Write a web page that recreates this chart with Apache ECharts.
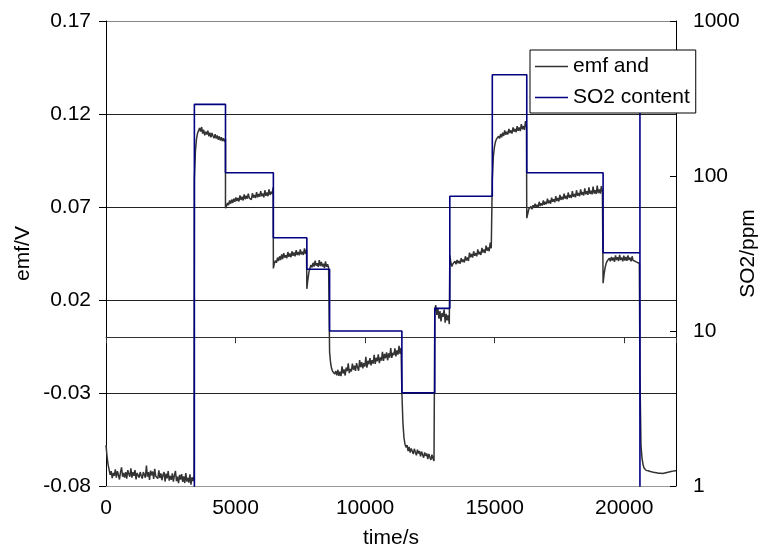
<!DOCTYPE html>
<html>
<head>
<meta charset="utf-8">
<script src="https://cdn.jsdelivr.net/npm/echarts/dist/echarts.min.js"></script>
<style>
html,body{margin:0;padding:0;background:#fff;}
#chart{width:761px;height:551px;}
</style>
</head>
<body>
<div id="chart"></div>
<script>
// ---- tick labels ----
const timeTicks = [0, 5000, 10000, 15000, 20000];
const timeMax = 22000;
const emfTicks = [-0.08, -0.03, 0.02, 0.07, 0.12, 0.17];
const so2Ticks = [1, 10, 100, 1000];

// ---- SO2 content (ppm), step changes; 0.1 = below scale (no SO2) ----
const so2Times  = [0, 3411, 4612, 6460, 7752, 8630, 11420, 12690, 13270, 14910, 16240, 19186, 20608, 20608, 22000];
const so2Values = [0.1, 290, 105, 40, 25, 10, 4, 14, 74, 450, 105, 32, 400, 0.1, 0.1];

// ---- emf (V), one sample every emfStep seconds within each step ----
const emfStep = 40;
const emfSegStart = [0, 3411, 4612, 6460, 7752, 8630, 11420, 12690, 13270, 14910, 16240, 19186, 20608];
const emfSeg0 = [-0.0580,-0.0640,-0.0685,-0.0712,-0.0740,-0.0720,-0.0758,-0.0730,-0.0745,-0.0710,-0.0755,-0.0720,-0.0740,-0.0765,-0.0725,-0.0700,-0.0750,-0.0730,-0.0755,-0.0725,-0.0760,-0.0715,-0.0735,-0.0750,-0.0705,-0.0755,-0.0725,-0.0745,-0.0715,-0.0765,-0.0730,-0.0720,-0.0755,-0.0725,-0.0745,-0.0760,-0.0725,-0.0730,-0.0755,-0.0690,-0.0750,-0.0725,-0.0767,-0.0717,-0.0742,-0.0722,-0.0762,-0.0708,-0.0748,-0.0740,-0.0760,-0.0716,-0.0757,-0.0732,-0.0769,-0.0740,-0.0725,-0.0776,-0.0733,-0.0759,-0.0720,-0.0771,-0.0746,-0.0767,-0.0732,-0.0777,-0.0743,-0.0719,-0.0774,-0.0750,-0.0785,-0.0740,-0.0766,-0.0736,-0.0778,-0.0748,-0.0784,-0.0730,-0.0776,-0.0756,-0.0782,-0.0737,-0.0793,-0.0753,-0.0774,-0.0745];
const emfSeg1 = [0.0850,0.1000,0.1065,0.1095,0.1110,0.1125,0.1105,0.1130,0.1095,0.1115,0.1085,0.1105,0.1090,0.1110,0.1080,0.1100,0.1075,0.1098,0.1082,0.1070,0.1092,0.1068,0.1085,0.1062,0.1080,0.1058,0.1075,0.1055,0.1070,0.1052,0.1065];
const emfSeg2 = [0.0693,0.0705,0.0722,0.0710,0.0735,0.0718,0.0740,0.0722,0.0745,0.0728,0.0752,0.0732,0.0748,0.0730,0.0762,0.0738,0.0755,0.0735,0.0768,0.0742,0.0760,0.0745,0.0772,0.0748,0.0758,0.0740,0.0775,0.0750,0.0765,0.0748,0.0780,0.0752,0.0770,0.0755,0.0785,0.0758,0.0772,0.0752,0.0790,0.0760,0.0778,0.0758,0.0795,0.0765,0.0782,0.0770,0.0805];
const emfSeg3 = [0.0370,0.0398,0.0412,0.0400,0.0428,0.0410,0.0435,0.0415,0.0445,0.0420,0.0452,0.0428,0.0440,0.0425,0.0458,0.0432,0.0450,0.0430,0.0462,0.0438,0.0455,0.0435,0.0468,0.0442,0.0458,0.0440,0.0472,0.0445,0.0460,0.0442,0.0478,0.0448,0.0470];
const emfSeg4 = [0.0260,0.0310,0.0350,0.0372,0.0388,0.0375,0.0400,0.0380,0.0412,0.0385,0.0398,0.0378,0.0415,0.0382,0.0405,0.0380,0.0395,0.0372,0.0408,0.0378,0.0392,0.0375];
const emfSeg5 = [-0.0080,-0.0140,-0.0170,-0.0185,-0.0178,-0.0198,-0.0182,-0.0205,-0.0175,-0.0208,-0.0186,-0.0209,-0.0157,-0.0195,-0.0173,-0.0206,-0.0164,-0.0182,-0.0140,-0.0193,-0.0171,-0.0184,-0.0142,-0.0175,-0.0153,-0.0181,-0.0139,-0.0162,-0.0180,-0.0123,-0.0161,-0.0134,-0.0167,-0.0140,-0.0158,-0.0106,-0.0164,-0.0127,-0.0145,-0.0113,-0.0151,-0.0124,-0.0142,-0.0095,-0.0143,-0.0111,-0.0129,-0.0092,-0.0140,-0.0108,-0.0126,-0.0079,-0.0127,-0.0090,-0.0113,-0.0081,-0.0124,-0.0087,-0.0110,-0.0058,-0.0111,-0.0084,-0.0097,-0.0060,-0.0103,-0.0071,-0.0094,-0.0047,-0.0090,-0.0058];
const emfSeg6 = [-0.0300,-0.0460,-0.0540,-0.0575,-0.0592,-0.0580,-0.0612,-0.0590,-0.0620,-0.0598,-0.0608,-0.0628,-0.0600,-0.0618,-0.0635,-0.0605,-0.0625,-0.0612,-0.0640,-0.0615,-0.0632,-0.0648,-0.0620,-0.0638,-0.0625,-0.0655,-0.0628,-0.0645,-0.0660,-0.0632,-0.0652,-0.0665];
const emfSeg7 = [0.0150,0.0172,0.0120,0.0155,0.0100,0.0140,0.0085,0.0130,0.0110,0.0148,0.0078,0.0125,0.0090,0.0118,0.0070];
const emfSeg8 = [0.0440,0.0400,0.0380,0.0395,0.0385,0.0408,0.0392,0.0415,0.0398,0.0410,0.0395,0.0425,0.0405,0.0418,0.0402,0.0435,0.0412,0.0428,0.0410,0.0455,0.0430,0.0448,0.0428,0.0462,0.0438,0.0452,0.0435,0.0472,0.0445,0.0460,0.0442,0.0480,0.0455,0.0472,0.0452,0.0492,0.0465,0.0482,0.0462,0.0508,0.0478];
const emfSeg9 = [0.0850,0.0970,0.1020,0.1050,0.1065,0.1058,0.1080,0.1068,0.1092,0.1075,0.1100,0.1082,0.1112,0.1088,0.1105,0.1090,0.1120,0.1098,0.1112,0.1095,0.1128,0.1105,0.1120,0.1102,0.1135,0.1110,0.1128,0.1108,0.1145,0.1118,0.1135,0.1115,0.1162,0.1130];
const emfSeg10 = [0.0640,0.0665,0.0690,0.0680,0.0702,0.0688,0.0710,0.0695,0.0718,0.0700,0.0712,0.0698,0.0728,0.0705,0.0720,0.0708,0.0735,0.0712,0.0728,0.0715,0.0745,0.0720,0.0735,0.0718,0.0750,0.0728,0.0742,0.0725,0.0758,0.0732,0.0748,0.0730,0.0765,0.0738,0.0755,0.0740,0.0772,0.0745,0.0760,0.0742,0.0778,0.0750,0.0765,0.0748,0.0785,0.0755,0.0770,0.0752,0.0790,0.0760,0.0775,0.0758,0.0795,0.0765,0.0780,0.0762,0.0800,0.0768,0.0785,0.0765,0.0805,0.0770,0.0788,0.0768,0.0810,0.0772,0.0790,0.0770,0.0815,0.0775,0.0795,0.0772,0.0812,0.0780];
const emfSeg11 = [0.0290,0.0340,0.0375,0.0398,0.0410,0.0402,0.0425,0.0408,0.0432,0.0412,0.0428,0.0405,0.0440,0.0415,0.0430,0.0410,0.0442,0.0415,0.0428,0.0408,0.0438,0.0412,0.0432,0.0410,0.0440,0.0415,0.0428,0.0408,0.0435,0.0412,0.0420,0.0408,0.0412,0.0402,0.0405,0.0398];
const emfSeg12 = [-0.0200,-0.0580,-0.0650,-0.0685,-0.0703,-0.0712,-0.0716,-0.0720,-0.0718,-0.0724,-0.0722,-0.0727,-0.0725,-0.0730,-0.0727,-0.0733,-0.0729,-0.0734,-0.0731,-0.0736,-0.0732,-0.0736,-0.0733,-0.0735,-0.0730,-0.0732,-0.0727,-0.0729,-0.0725,-0.0726,-0.0722,-0.0724,-0.0720,-0.0721,-0.0718,-0.0718];

const emfSegments = [emfSeg0, emfSeg1, emfSeg2, emfSeg3, emfSeg4, emfSeg5, emfSeg6, emfSeg7, emfSeg8, emfSeg9, emfSeg10, emfSeg11, emfSeg12];
const emfData = [];
emfSegments.forEach((vals, s) => vals.forEach((v, k) => emfData.push([emfSegStart[s] + k * emfStep, v])));
const so2Data = so2Times.map((t, i) => [t, so2Values[i]]);

const FONT = 'Liberation Sans, Arial, Helvetica, sans-serif';
const chart = echarts.init(document.getElementById('chart'), null, {renderer: 'canvas'});
chart.setOption({
  animation: false,
  backgroundColor: '#fff',
  textStyle: {fontFamily: FONT},
  grid: {left: 106, right: 85, top: 21, bottom: 65, containLabel: false, outerBoundsMode: 'none'},
  legend: {
    left: 530, top: 50, orient: 'vertical',
    backgroundColor: '#fff', borderColor: '#000', borderWidth: 1, borderRadius: 0,
    padding: [6, 6, 5, 5], itemGap: 10, itemWidth: 33, itemHeight: 1.5, icon: 'rect',
    textStyle: {fontSize: 21, color: '#000', fontFamily: FONT, lineHeight: 21},
    data: ['emf and', 'SO2 content']
  },
  xAxis: [
    {
      type: 'value', min: timeTicks[0], max: timeMax, interval: 5000, position: 'bottom',
      name: 'time/s', nameLocation: 'middle', nameGap: 42, nameMoveOverlap: false,
      nameTextStyle: {fontSize: 21, color: '#000', fontFamily: FONT},
      axisLine: {onZero: false, lineStyle: {color: '#999', width: 1}},
      axisTick: {show: false},
      axisLabel: {fontSize: 21, color: '#000', margin: 12, fontFamily: FONT,
        formatter: v => (timeTicks.indexOf(v) >= 0 ? String(v) : '')},
      splitLine: {show: false}
    },
    {
      type: 'value', min: timeTicks[0], max: timeMax, interval: 5000, position: 'bottom',
      axisLine: {onZero: true, onZeroAxisIndex: 0, lineStyle: {color: '#333', width: 1}},
      axisTick: {show: true, inside: false, length: 6, lineStyle: {color: '#333'}},
      axisLabel: {show: false},
      splitLine: {show: false}
    }
  ],
  yAxis: [
    {
      type: 'value', min: emfTicks[0], max: emfTicks[emfTicks.length - 1], interval: 0.05, position: 'left',
      name: 'emf/V', nameLocation: 'middle', nameGap: 72, nameMoveOverlap: false,
      nameTextStyle: {fontSize: 21, color: '#000', fontFamily: FONT},
      axisLine: {show: true, onZero: false, lineStyle: {color: '#000', width: 1}},
      axisTick: {show: true, inside: false, length: 7, lineStyle: {color: '#000'}},
      axisLabel: {fontSize: 21, color: '#000', margin: 15, fontFamily: FONT, formatter: v => v.toFixed(2)},
      splitLine: {show: true, lineStyle: {color: ['#999', '#222', '#222', '#222', '#222', '#888'], width: 1}}
    },
    {
      type: 'log', logBase: 10, min: so2Ticks[0], max: so2Ticks[so2Ticks.length - 1], position: 'right',
      name: 'SO2/ppm', nameLocation: 'middle', nameGap: 62, nameMoveOverlap: false,
      nameTextStyle: {fontSize: 21, color: '#000', fontFamily: FONT},
      axisLine: {show: true, onZero: false, lineStyle: {color: '#000', width: 1}},
      axisTick: {show: true, inside: true, length: 6, lineStyle: {color: '#000'}},
      minorTick: {show: false},
      axisLabel: {fontSize: 21, color: '#000', margin: 17, fontFamily: FONT, formatter: v => String(Math.round(v))},
      splitLine: {show: false}
    }
  ],
  series: [
    {
      name: 'emf and', type: 'line', xAxisIndex: 0, yAxisIndex: 0,
      data: emfData, symbol: 'none', showSymbol: false, clip: true,
      lineStyle: {color: '#333', width: 1.5}, itemStyle: {color: '#333'}
    },
    {
      name: 'SO2 content', type: 'line', xAxisIndex: 0, yAxisIndex: 1, step: 'end',
      data: so2Data, symbol: 'none', showSymbol: false, clip: true,
      lineStyle: {color: '#000080', width: 1.6}, itemStyle: {color: '#000080'}
    }
  ]
});
</script>
</body>
</html>
